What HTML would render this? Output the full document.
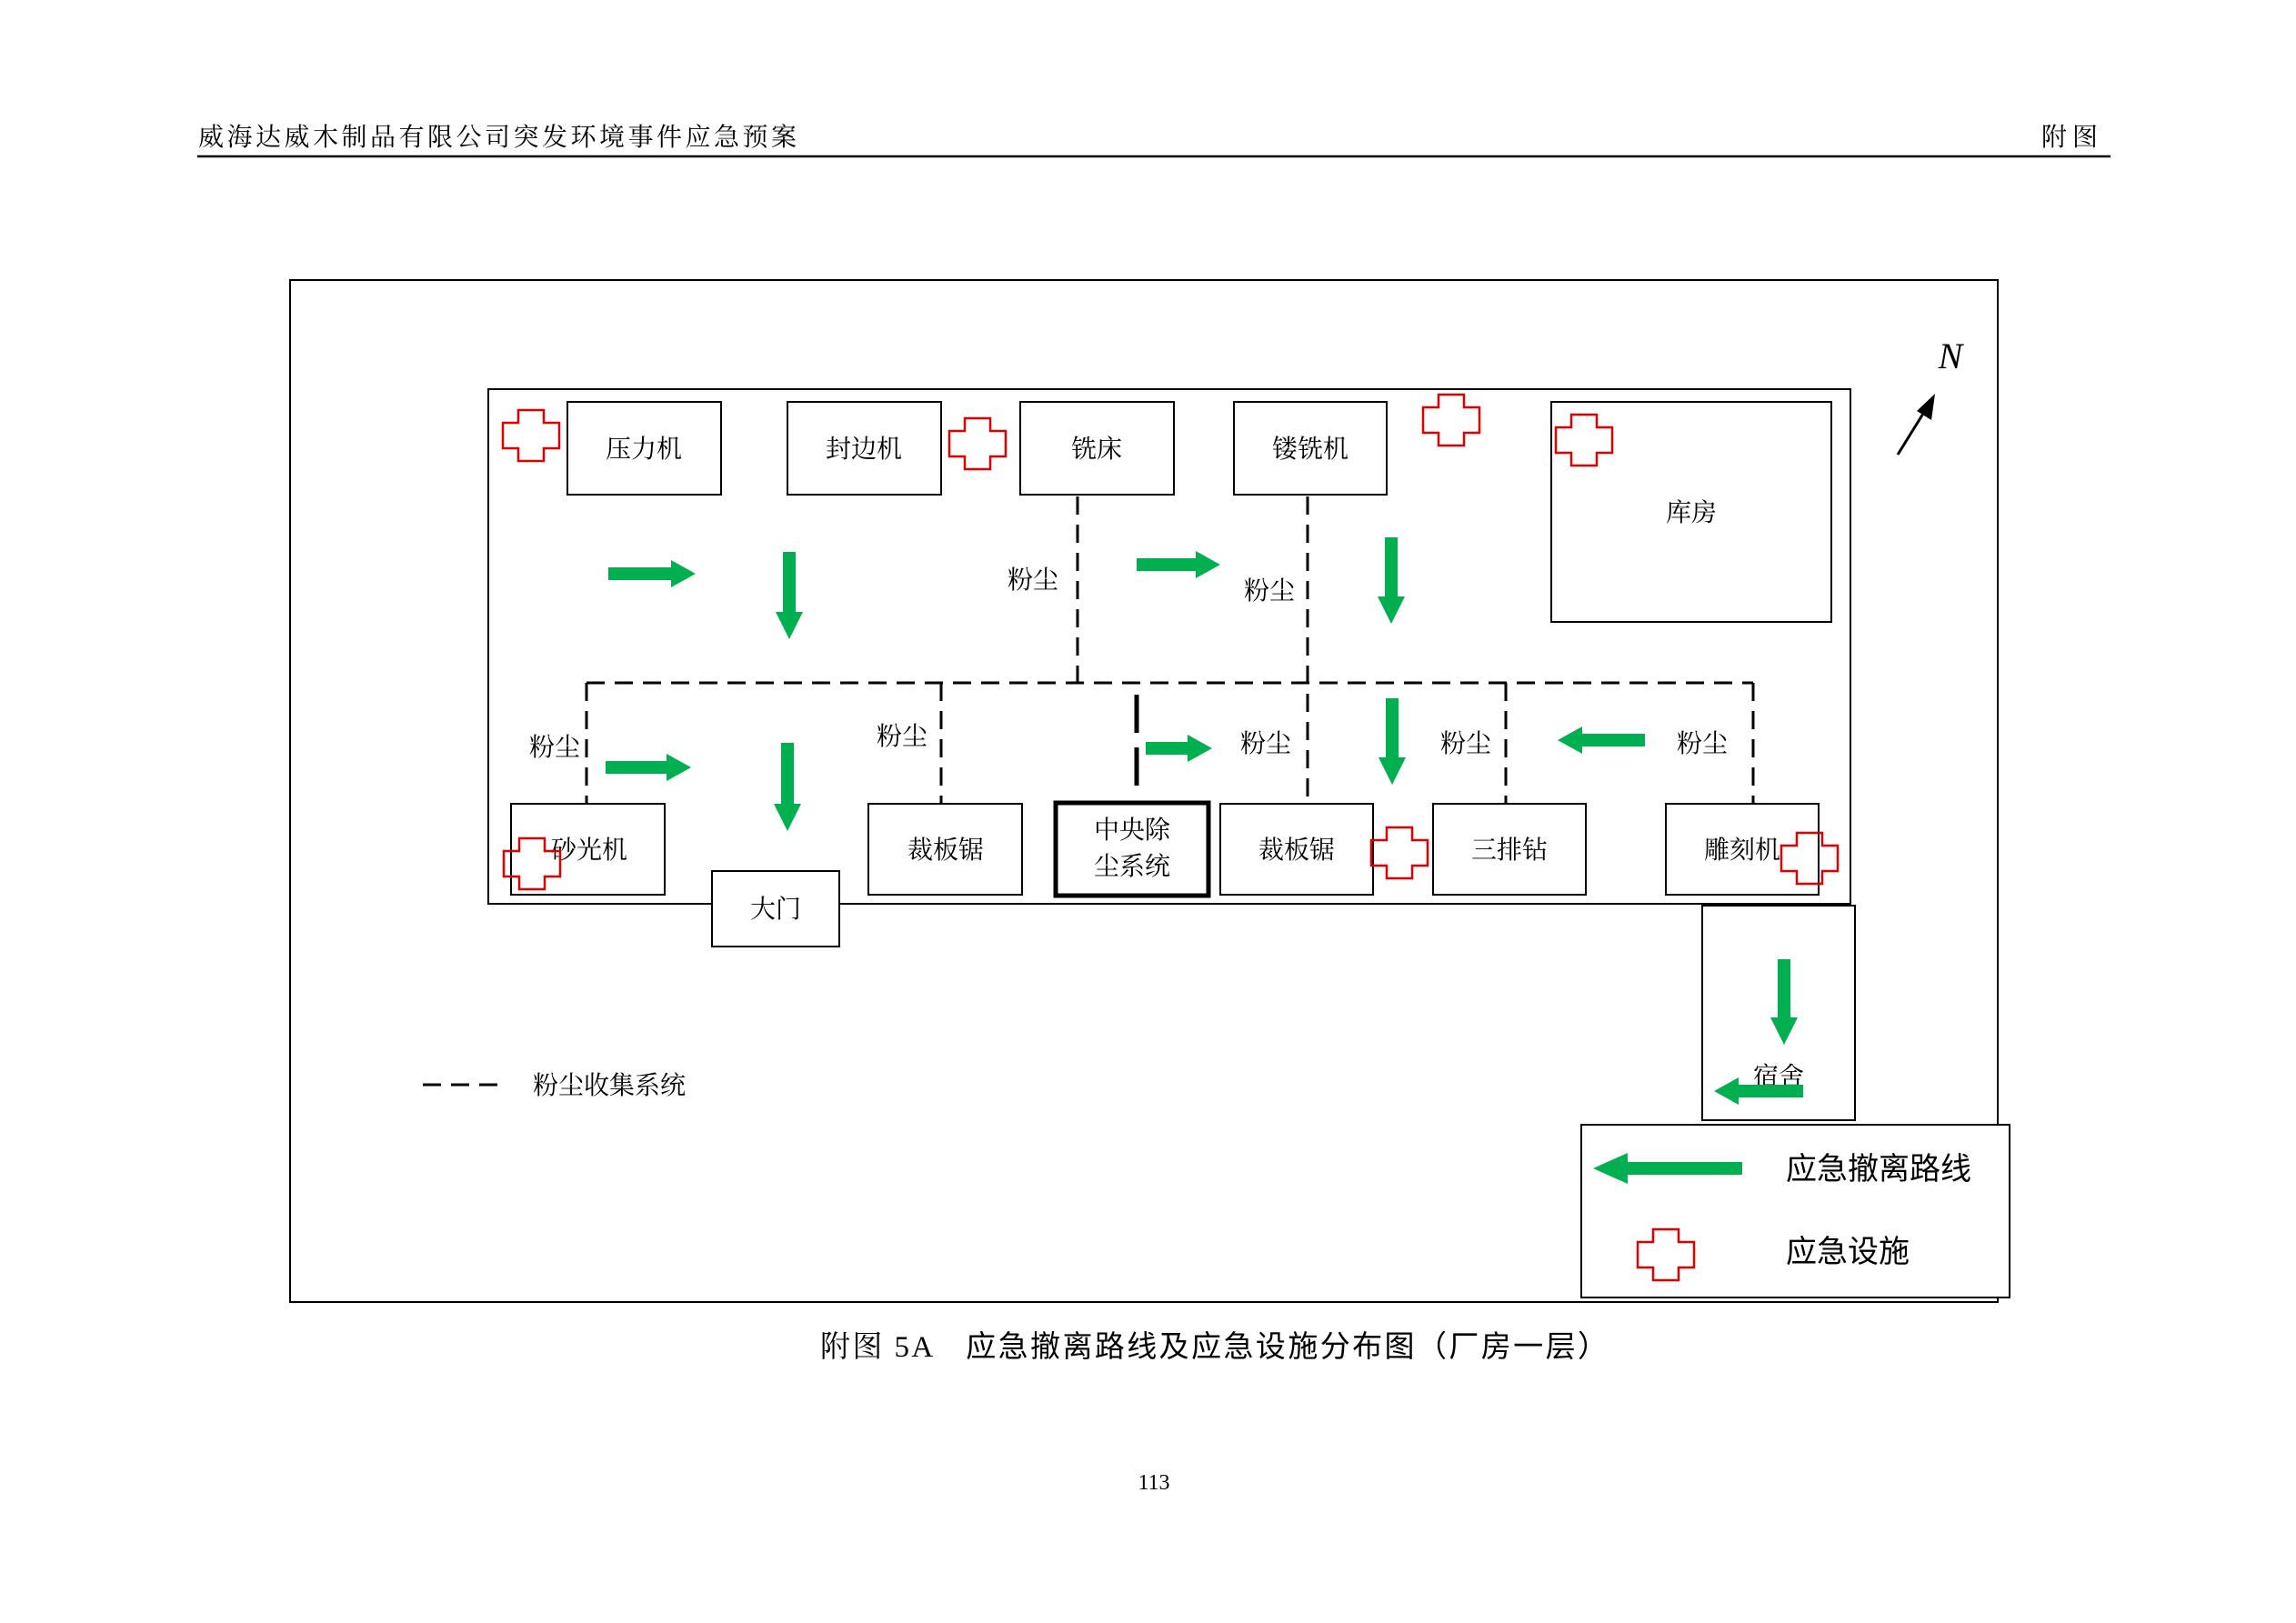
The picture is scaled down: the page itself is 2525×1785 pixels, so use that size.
<!DOCTYPE html>
<html><head><meta charset="utf-8">
<style>
html,body{margin:0;padding:0;background:#fff;}
svg{display:block;}
text{font-family:"Liberation Serif","Noto Serif CJK SC","Noto Sans CJK SC",serif;fill:#000;}
.b{font-family:"Liberation Sans","Noto Sans CJK SC",sans-serif;}
</style></head><body>
<svg width="2525" height="1785" viewBox="0 0 2525 1785" xmlns="http://www.w3.org/2000/svg">
<defs>
<path id="cr" d="M-14,-28 H14 V-14 H31 V14 H14 V28 H-14 V14 H-31 V-14 H-14 Z" fill="none" stroke="#e00000" stroke-width="2.5"/>
</defs>
<!-- header -->
<text x="218" y="160" font-size="28" textLength="658" lengthAdjust="spacing">威海达威木制品有限公司突发环境事件应急预案</text>
<text x="2245" y="160" font-size="28" textLength="62" lengthAdjust="spacing">附图</text>
<line x1="217" y1="172" x2="2321" y2="172" stroke="#000" stroke-width="2.5"/>

<rect x="319" y="308" width="1878" height="1124" fill="none" stroke="#000" stroke-width="2"/>
<rect x="537" y="428" width="1498" height="566" fill="none" stroke="#000" stroke-width="2"/>

<g fill="#fff" stroke="#000" stroke-width="2">
<rect x="624" y="442" width="169" height="102"/>
<rect x="866" y="442" width="169" height="102"/>
<rect x="1122" y="442" width="169" height="102"/>
<rect x="1357" y="442" width="168" height="102"/>
<rect x="1706" y="442" width="308" height="242"/>
<rect x="562" y="884" width="169" height="100"/>
<rect x="955" y="884" width="169" height="100"/>
<rect x="1342" y="884" width="168" height="100"/>
<rect x="1576" y="884" width="168" height="100"/>
<rect x="1832" y="884" width="168" height="100"/>
<rect x="783" y="958" width="140" height="83"/>
<rect x="1872" y="996" width="168" height="236"/>
</g>
<rect x="1161" y="883" width="168" height="102" fill="#fff" stroke="#000" stroke-width="5"/>

<g stroke="#000" stroke-width="3" stroke-dasharray="20,11" fill="none">
<path d="M1185,546 V751"/>
<path d="M645,751 H1928"/>
<path d="M645,751 V884"/>
<path d="M1035,751 V884"/>
<path d="M1438,546 V884"/>
<path d="M1656,751 V884"/>
<path d="M1928,751 V884"/>
<path d="M465,1193 H556"/>
</g>
<path d="M1250,764 V876" stroke="#000" stroke-width="5" stroke-dasharray="42,16"/>

<g font-size="28" text-anchor="middle">
<text x="708" y="503">压力机</text>
<text x="950" y="503">封边机</text>
<text x="1206" y="503">铣床</text>
<text x="1441" y="503">镂铣机</text>
<text x="1860" y="573">库房</text>
<text x="648" y="944">砂光机</text>
<text x="1040" y="944">裁板锯</text>
<text x="1426" y="944">裁板锯</text>
<text x="1660" y="944">三排钻</text>
<text x="1916" y="944">雕刻机</text>
<text x="853" y="1009">大门</text>
<text x="1245" y="922">中央除</text>
<text x="1245" y="962">尘系统</text>
<text x="1956" y="1193">宿舍</text>
</g>
<g font-size="28" text-anchor="middle">
<rect x="1103" y="618" width="62" height="38" fill="#fff"/>
<text x="1136" y="647">粉尘</text>
<rect x="1364" y="630" width="62" height="38" fill="#fff"/>
<text x="1396" y="659">粉尘</text>
<rect x="578" y="802" width="62" height="38" fill="#fff"/>
<text x="610" y="831">粉尘</text>
<rect x="960" y="790" width="62" height="38" fill="#fff"/>
<text x="992" y="819">粉尘</text>
<text x="1392" y="827">粉尘</text>
<text x="1612" y="827">粉尘</text>
<text x="1872" y="827">粉尘</text>
<text x="586" y="1203" text-anchor="start">粉尘收集系统</text>
</g>

<g>
<use href="#cr" x="584" y="479"/>
<use href="#cr" x="1075" y="488"/>
<use href="#cr" x="1596" y="462"/>
<use href="#cr" x="1742" y="484"/>
<use href="#cr" x="585" y="950"/>
<use href="#cr" x="1539" y="938"/>
<use href="#cr" x="1990" y="944"/>
</g>

<g fill="#00b050">
<path d="M669,624 H738 V616 L765,631 L738,646 V638 H669 Z"/>
<path d="M1250,614 H1315 V606 L1342,621 L1315,636 V628 H1250 Z"/>
<path d="M666,837 H733 V829 L760,844 L733,859 V851 H666 Z"/>
<path d="M1260,816 H1306 V808 L1333,823 L1306,838 V830 H1260 Z"/>
<path d="M1809,807 H1740 V799 L1713,814 L1740,829 V821 H1809 Z"/>
<path d="M1983,1193 H1912 V1185 L1885,1200 L1912,1215 V1207 H1983 Z"/>
<path d="M861,607 H875 V673 H883 L868,703 L853,673 H861 Z"/>
<path d="M1523,591 H1537 V656 H1545 L1530,686 L1515,656 H1523 Z"/>
<path d="M859,817 H873 V884 H881 L866,914 L851,884 H859 Z"/>
<path d="M1524,768 H1538 V833 H1546 L1531,863 L1516,833 H1524 Z"/>
<path d="M1955,1055 H1969 V1119 H1977 L1962,1149 L1947,1119 H1955 Z"/>
</g>

<rect x="1739" y="1237" width="471" height="190" fill="#fff" stroke="#000" stroke-width="2"/>
<path d="M1916,1278 H1790 V1268 L1752,1285 L1790,1302 V1292 H1916 Z" fill="#00b050"/>
<use href="#cr" x="1832" y="1380"/>
<text class="b" x="1964" y="1297" font-size="34">应急撤离路线</text>
<text class="b" x="1964" y="1388" font-size="34">应急设施</text>

<line x1="2087" y1="500" x2="2118" y2="450" stroke="#000" stroke-width="3"/>
<path d="M2128,433 L2124,462 L2108,452 Z" fill="#000"/>
<text x="2145" y="405" font-size="40" font-style="italic" text-anchor="middle">N</text>

<text x="902" y="1492" font-size="33" textLength="866" lengthAdjust="spacing">附图 5A　<tspan class="b">应急撤离路线及应急设施分布图（厂房一层）</tspan></text>
<text x="1269" y="1638" font-size="24" text-anchor="middle">113</text>
</svg>
</body></html>
